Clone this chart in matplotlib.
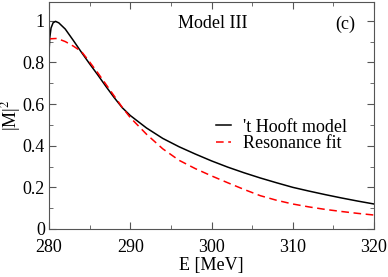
import matplotlib
matplotlib.use("Agg")
import matplotlib.pyplot as plt
from matplotlib.ticker import MultipleLocator

plt.rcParams['font.family'] = ['Liberation Serif', 'DejaVu Serif']
plt.rcParams['mathtext.fontset'] = 'stix'

# 't Hooft model curve
E_hooft = [280.0, 280.1, 280.25, 280.5, 280.8, 281.2, 282, 283, 284, 285, 286, 287, 288, 289,
           290, 292, 294, 296, 298, 300, 302, 304, 306, 308, 310, 312, 314, 316, 318, 320]
M_hooft = [0.85, 0.92, 0.965, 0.99, 0.997, 0.99, 0.96, 0.905, 0.848, 0.793, 0.74, 0.685, 0.632, 0.583,
           0.545, 0.485, 0.435, 0.395, 0.36, 0.327, 0.297, 0.27, 0.245, 0.222, 0.2, 0.182, 0.165, 0.149, 0.134, 0.12]

# resonance fit curve
E_res = [280, 281, 282, 283, 284, 285, 286, 287, 288, 289, 290, 292, 294, 296, 298,
         300, 302, 304, 306, 308, 310, 312, 314, 316, 318, 320]
M_res = [0.913, 0.915, 0.9, 0.878, 0.852, 0.802, 0.75, 0.695, 0.64, 0.585, 0.535, 0.455, 0.385, 0.33, 0.29,
         0.255, 0.222, 0.19, 0.16, 0.138, 0.12, 0.106, 0.094, 0.084, 0.075, 0.067]

fig = plt.figure(figsize=(3.88, 2.77), dpi=100)
ax = fig.add_axes([0.1263, 0.1733, 0.8377, 0.8195])

ax.plot(E_hooft, M_hooft, color='black', lw=1.1, label="'t Hooft model")
ax.plot(E_res, M_res, color='red', lw=1.1, ls=(0, (5, 3)), label='Resonance fit')

ax.set_xlim(280, 320)
ax.set_ylim(0, 1.09)
ax.xaxis.set_major_locator(MultipleLocator(10))
ax.xaxis.set_minor_locator(MultipleLocator(5))
ax.yaxis.set_minor_locator(MultipleLocator(0.1))
ax.set_yticks([0, 0.2, 0.4, 0.6, 0.8, 1.0])
ax.set_yticklabels(['0', '0.2', '0.4', '0.6', '0.8', '1'])
ax.tick_params(which='both', direction='in', top=True, right=True, labelsize=13, color='#555555')
ax.tick_params(which='major', length=5)
ax.tick_params(which='minor', length=3)
ax.tick_params(axis='x', pad=7)
ax.tick_params(axis='y', pad=3)
for s in ax.spines.values():
    s.set_color('#555555')

ax.set_xlabel('E [MeV]', fontsize=13, labelpad=1)
ax.set_ylabel('|M|$^2$', fontsize=13, labelpad=0)

ax.text(300.2, 0.985, 'Model III', fontsize=13, ha='center', va='center')
ax.text(316.4, 0.985, '(c)', fontsize=13, ha='center', va='center')

ax.legend(loc='lower right', bbox_to_anchor=(0.945, 0.30), frameon=False, fontsize=13,
          handlelength=0.85, handletextpad=0.65, labelspacing=-0.05, borderpad=0)

fig.savefig('out.png', dpi=100)
